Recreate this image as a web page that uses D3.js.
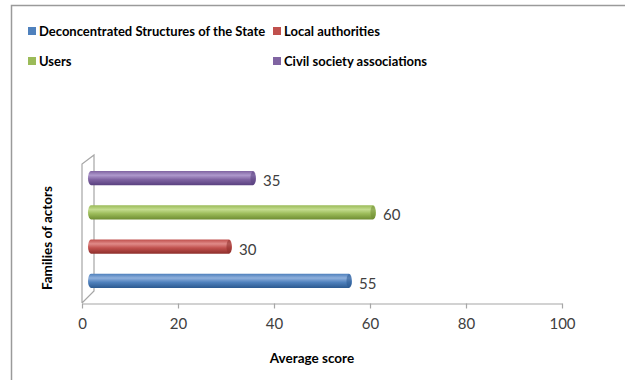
<!DOCTYPE html>
<html><head><meta charset="utf-8">
<script src="https://cdn.jsdelivr.net/npm/d3@7"></script>
<style>body{margin:0;background:#fff}svg{display:block}</style>
</head><body>
<svg id="c" width="625" height="380"></svg>
<script>
const categories = ["Deconcentrated Structures of the State", "Local authorities", "Users", "Civil society associations"];
const values = [55, 30, 60, 35];
const colors = ["#4F81BD", "#C0504D", "#9BBB59", "#8064A2"];
const darks = ["#2c5a91", "#8e2f2c", "#6f8d33", "#5a4180"];
const lights = ["#8fb0dc", "#e08a88", "#c3dc8e", "#ae98cc"];
const ticks = [0, 20, 40, 60, 80, 100];

const svg = d3.select("#c");
const font = "Lato, 'Open Sans', sans-serif";

// outer border
svg.append("path").attr("d", "M11.5,380 V5.5 H625").attr("fill", "none").attr("stroke", "#9a9a9a").attr("stroke-width", 1.5);

const x = d3.scaleLinear().domain([0, 100]).range([82, 562]);
const y = d3.scaleBand().domain(categories).range([298, 161]).paddingInner(0.59).paddingOuter(0.295);
const dx = 6;

// defs gradients
const defs = svg.append("defs");
categories.forEach((c, i) => {
  const g = defs.append("linearGradient").attr("id", "g" + i).attr("x1", 0).attr("y1", 0).attr("x2", 0).attr("y2", 1);
  g.append("stop").attr("offset", "0%").attr("stop-color", colors[i]);
  g.append("stop").attr("offset", "30%").attr("stop-color", lights[i]);
  g.append("stop").attr("offset", "60%").attr("stop-color", colors[i]);
  g.append("stop").attr("offset", "100%").attr("stop-color", darks[i]);
});

// 3D wall
const wx0 = x(0), wx1 = x(0) + 12;
svg.append("path")
  .attr("d", `M${wx0},303 V164 L${wx1},155 V291 L${wx0},303`)
  .attr("fill", "none").attr("stroke", "#a6a6a6").attr("stroke-width", 1.2);

// x axis
const axis = d3.axisBottom(x).tickValues(ticks).tickSize(5).tickSizeOuter(0);
const ax = svg.append("g").attr("transform", "translate(0,303.5)").call(axis);
ax.select(".domain").attr("stroke", "#a6a6a6").attr("stroke-width", 1.2);
ax.selectAll(".tick line").attr("stroke", "#a6a6a6").attr("stroke-width", 1.2);
ax.selectAll(".tick text").attr("font-family", font).attr("font-size", 15).attr("fill", "#404040").attr("dy", "1.15em");

// bars
const bh = y.bandwidth();
const bars = svg.append("g");
categories.forEach((c, i) => {
  const y0 = y(c), x0 = x(0) + dx, x1 = x(values[i]) + dx;
  const rx = 3;
  bars.append("path")
    .attr("d", `M${x0 + rx},${y0} H${x1 - rx} A${rx},${bh/2} 0 0 1 ${x1 - rx},${y0 + bh} H${x0 + rx} A${rx},${bh/2} 0 0 1 ${x0 + rx},${y0}`)
    .attr("fill", `url(#g${i})`);
  bars.append("ellipse").attr("cx", x1 - rx).attr("cy", y0 + bh / 2).attr("rx", rx - 0.5).attr("ry", bh / 2 - 0.5)
    .attr("fill", darks[i]).attr("opacity", 0.55);
  svg.append("text").attr("x", x1 + 7).attr("y", y0 + bh / 2 + 8)
    .attr("font-family", font).attr("font-size", 15).attr("fill", "#404040").text(values[i]);
});

// axis titles
svg.append("text").attr("x", 312).attr("y", 363).attr("text-anchor", "middle")
  .attr("font-family", font).attr("font-weight", "bold").attr("font-size", 13.5).attr("fill", "#000").text("Average score");
svg.append("text").attr("transform", "translate(52,238) rotate(-90)").attr("text-anchor", "middle")
  .attr("font-family", font).attr("font-weight", "bold").attr("font-size", 13.5).attr("fill", "#000").text("Families of actors");

// legend
const legPos = [[28, 31], [273, 31], [28, 61], [273, 61]];
categories.forEach((c, i) => {
  const [lx, ly] = legPos[i];
  svg.append("rect").attr("x", lx).attr("y", ly - 4).attr("width", 8).attr("height", 8).attr("fill", colors[i]);
  svg.append("text").attr("x", lx + 11).attr("y", ly + 5)
    .attr("font-family", font).attr("font-weight", "bold").attr("font-size", 13).attr("fill", "#000").text(c);
});
</script>
</body></html>
